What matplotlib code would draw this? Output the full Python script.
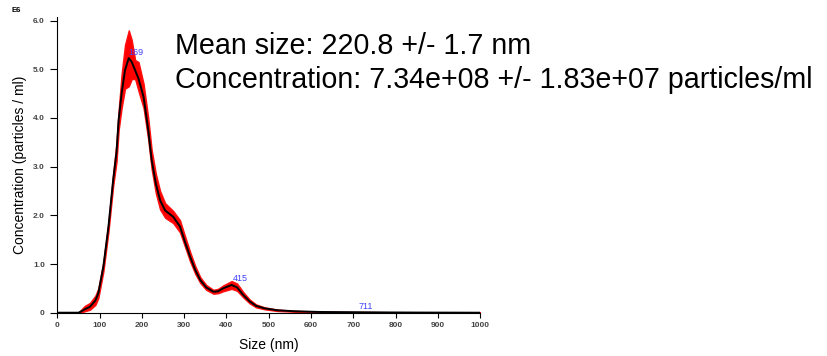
import numpy as np
import matplotlib
matplotlib.use("Agg")
import matplotlib.pyplot as plt

plt.rcParams["font.family"] = ["Liberation Sans", "DejaVu Sans"]

# size (nm) and concentration (E6 particles / ml)
size = [0, 50, 55, 65, 77, 90, 97, 109, 121, 132, 140, 145, 152, 160, 169, 176,
        184, 192, 204, 215, 223, 233, 243, 255, 274, 290, 302, 314, 326, 338,
        352, 369, 380, 392, 412, 425, 440, 455, 470, 490, 520, 560, 620, 700,
        790, 850, 1000]
conc_mean = [0, 0, 0.02, 0.07, 0.12, 0.25, 0.4, 0.95, 1.77, 2.72, 3.3, 3.96, 4.5, 4.98, 5.23, 5.15,
             4.98, 4.81, 4.43, 3.75, 3.14, 2.65, 2.31, 2.1, 1.97, 1.77, 1.45, 1.15, 0.88, 0.67,
             0.52, 0.43, 0.44, 0.5, 0.57, 0.52, 0.36, 0.23, 0.14, 0.09, 0.05, 0.03, 0.015, 0.01,
             0.005, 0.003, 0.0]
conc_upper = [0, 0, 0.05, 0.14, 0.2, 0.35, 0.5, 1.05, 1.87, 2.85, 3.5, 4.15, 4.9, 5.5, 5.8, 5.6,
              5.19, 5.15, 4.7, 4.0, 3.35, 2.85, 2.5, 2.25, 2.09, 1.9, 1.57, 1.25, 0.96, 0.73,
              0.57, 0.47, 0.49, 0.56, 0.65, 0.6, 0.42, 0.27, 0.17, 0.11, 0.065, 0.04, 0.02, 0.015,
              0.01, 0.01, 0.01]
conc_lower = [0, 0, 0.0, 0.03, 0.06, 0.16, 0.3, 0.85, 1.67, 2.6, 3.1, 3.75, 4.2, 4.6, 4.65, 4.8,
              4.8, 4.55, 4.2, 3.55, 2.95, 2.45, 2.12, 1.95, 1.84, 1.65, 1.35, 1.05, 0.8, 0.61,
              0.47, 0.39, 0.4, 0.44, 0.49, 0.45, 0.31, 0.19, 0.11, 0.07, 0.035, 0.02, 0.01, 0.005,
              0.0, 0.0, 0.0]

peak_sizes = [169, 415, 711]
peak_heights = [5.23, 0.57, 0.01]

fig = plt.figure(figsize=(8.28, 3.56), dpi=100)
ax = fig.add_axes([57.3 / 828, 1 - 312.7 / 356, 423 / 828, 296 / 356])

ax.fill_between(size, conc_lower, conc_upper, color="#ff0000", lw=1.0, edgecolor="#ff1010")
ax.plot(size, conc_mean, color="black", lw=1.4)

for s, h in zip(peak_sizes, peak_heights):
    ax.text(s, h + 0.03, str(s), color="#4040ff", fontsize=6.5, ha="left", va="bottom")

ax.set_xlim(0, 1000)
ax.set_ylim(0, 6.08)
ax.set_xticks(np.arange(0, 1001, 100))
ax.set_yticks([0, 1, 2, 3, 4, 5, 6])
ax.set_yticklabels(["0", "1.0", "2.0", "3.0", "4.0", "5.0", "6.0"])
ax.tick_params(labelsize=6, labelcolor="#444444", width=0.8)
ax.tick_params(axis="x", length=3.5, pad=3)
ax.tick_params(axis="y", length=5, pad=4)
for lab in ax.get_xticklabels() + ax.get_yticklabels():
    lab.set_fontweight("bold")
for side in ["top", "right"]:
    ax.spines[side].set_visible(False)
ax.spines["left"].set_linewidth(0.8)
ax.spines["bottom"].set_linewidth(0.8)

ax.set_xlabel("Size (nm)", fontsize=10, labelpad=7)
ax.set_ylabel("Concentration (particles / ml)", fontsize=10, labelpad=4)
fig.text(12 / 828, 1 - 10.5 / 356, "E6", fontsize=5.5, fontweight="bold", va="center", ha="left")

fig.text(175 / 828, 1 - 54 / 356, "Mean size: 220.8 +/- 1.7 nm", fontsize=20.6, va="baseline")
fig.text(175 / 828, 1 - 88 / 356,
         "Concentration: 7.34e+08 +/- 1.83e+07 particles/ml", fontsize=20.6, va="baseline")

fig.savefig("out.png", dpi=100)
